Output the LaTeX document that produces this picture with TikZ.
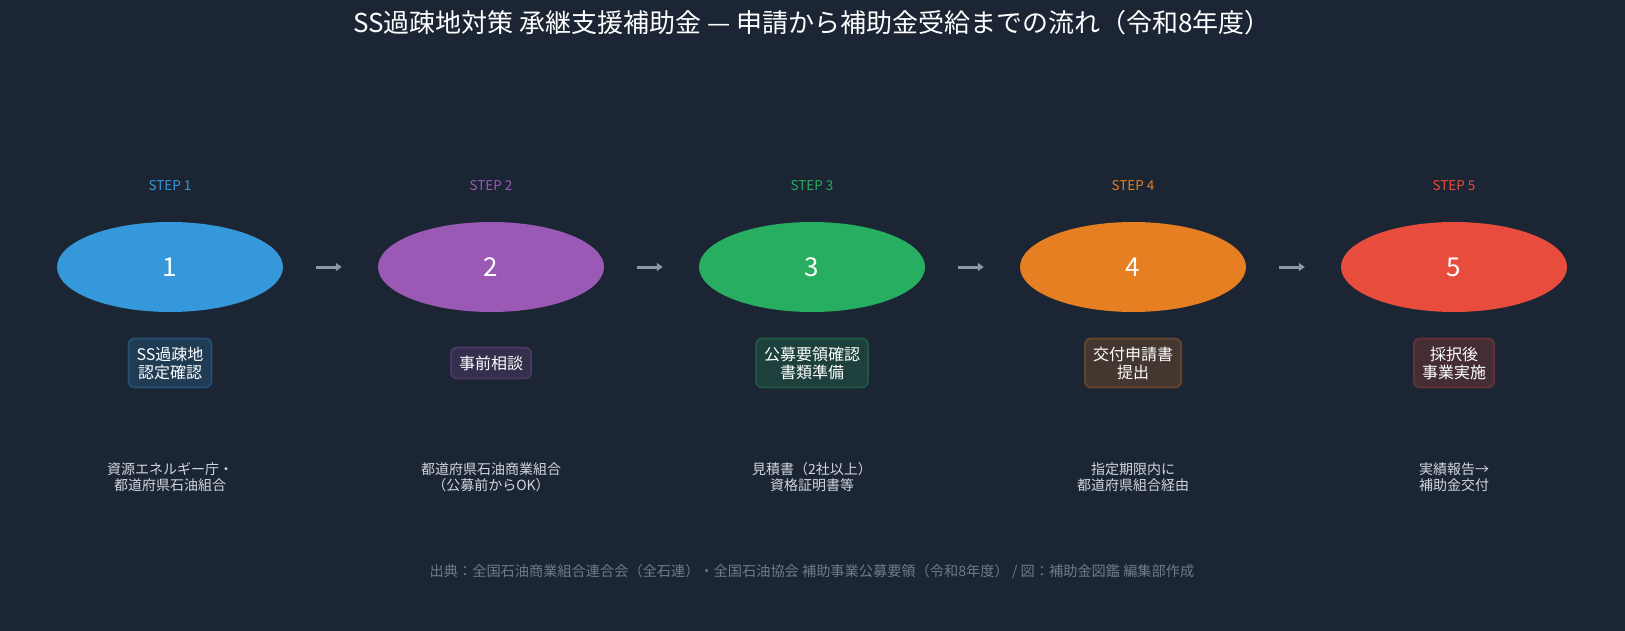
\documentclass[tikz,border=0pt]{standalone}
\usepackage{fontspec}
\setmainfont{Noto Sans CJK JP}
\definecolor{bg}{HTML}{1B2533}
\definecolor{cA}{HTML}{3498DB}
\definecolor{cB}{HTML}{9B59B6}
\definecolor{cC}{HTML}{27AE60}
\definecolor{cD}{HTML}{E67E22}
\definecolor{cE}{HTML}{E74C3C}
\definecolor{arr}{HTML}{8A97A6}
\definecolor{desc}{HTML}{D0D6DE}
\definecolor{foot}{HTML}{6E7B8C}
\usetikzlibrary{shapes.geometric,arrows.meta}
\tikzset{
 x=1pt,y=-1pt,
 oval/.style={ellipse,minimum width=226pt,minimum height=90pt,inner sep=0pt,text=white,font=\fontsize{26}{28}\selectfont},
 lbl/.style={rounded corners=6pt,line width=2pt,align=center,text=white,font=\fontsize{16}{18}\selectfont,inner sep=8pt},
 steplbl/.style={font=\fontsize{13.5}{15}\selectfont},
 dsc/.style={align=center,text=desc,font=\fontsize{14}{16}\selectfont},
 flow/.style={arr,line width=3pt,-{Triangle[length=6pt,width=8pt]},shorten <=33pt,shorten >=36pt}
}
\begin{document}
\begin{tikzpicture}
\fill[bg] (0,0) rectangle (1625,631);
\useasboundingbox (0,0) rectangle (1625,631);
\node[text=white,font=\fontsize{26}{28}\selectfont] (title) at (812,23) {SS過疎地対策 承継支援補助金 — 申請から補助金受給までの流れ（令和8年度）};
\foreach \i/\c/\x/\t/\d in {1/cA/170/{SS過疎地\\認定確認}/{資源エネルギー庁・\\都道府県石油組合},
 2/cB/491/{事前相談}/{都道府県石油商業組合\\（公募前からOK）},
 3/cC/812/{公募要領確認\\書類準備}/{見積書（2社以上）\\資格証明書等},
 4/cD/1133/{交付申請書\\提出}/{指定期限内に\\都道府県組合経由},
 5/cE/1454/{採択後\\事業実施}/{実績報告→\\補助金交付}}{
 \node[steplbl,text=\c] (s\i) at (\x,186) {STEP \i};
 \node[oval,fill=\c] (e\i) at (\x,267) {\i};
 \node[lbl,fill=\c!20!bg,draw=\c!35!bg] (b\i) at (\x,363) {\t};
 \node[dsc] (d\i) at (\x,477) {\d};
}
\foreach \a/\b in {1/2,2/3,3/4,4/5}{
 \draw[flow] (e\a.east) -- (e\b.west);
}
\node[text=foot,font=\fontsize{14.2}{16}\selectfont] (src) at (812,572) {出典：全国石油商業組合連合会（全石連）・全国石油協会 補助事業公募要領（令和8年度） / 図：補助金図鑑 編集部作成};
\end{tikzpicture}
\end{document}
